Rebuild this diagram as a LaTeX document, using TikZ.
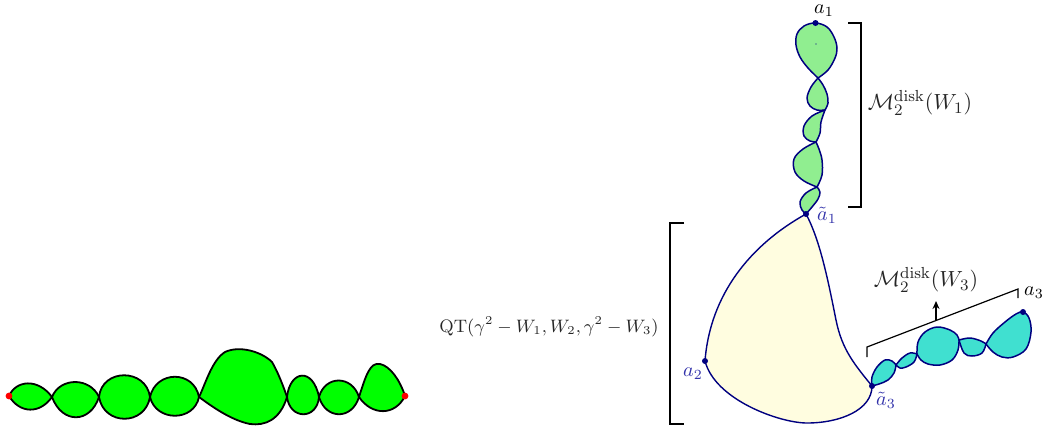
\documentclass[tikz,border=0pt]{standalone}
\usetikzlibrary{arrows.meta}
\definecolor{beadgreen}{RGB}{0,255,0}
\definecolor{lgreen}{RGB}{144,238,144}
\definecolor{turq}{RGB}{64,224,208}
\definecolor{lyellow}{RGB}{255,253,224}
\definecolor{navyc}{RGB}{0,0,128}
\definecolor{lblue}{RGB}{50,50,170}
\tikzset{
  greenbead/.style={fill=beadgreen,draw=black,line width=0.9pt,line join=round},
  topbead/.style={fill=lgreen,draw=navyc,line width=0.75pt,line join=round},
  rightbead/.style={fill=turq,draw=navyc,line width=0.75pt,line join=round},
  region/.style={fill=lyellow,draw=navyc,line width=0.7pt},
  bracketline/.style={draw=black,line width=0.6pt},
  reddot/.style={circle,fill=red,inner sep=0pt,minimum size=3.4pt},
  navydot/.style={circle,fill=navyc,inner sep=0pt,minimum size=3pt},
  blabel/.style={text=lblue,inner sep=1pt,font=\fontsize{10}{12}\selectfont},
  klabel/.style={text=black,inner sep=0.5pt,font=\fontsize{10}{12}\selectfont},
  mlabel/.style={text=black!85,inner sep=1pt,font=\fontsize{11}{13}\selectfont},
  qlabel/.style={text=black!85,inner sep=1pt,font=\fontsize{8.7}{10}\selectfont},
  sm/.style={smooth,tension=0.6}
}
\begin{document}
\begin{tikzpicture}[x=0.5pt,y=-0.5pt]
\useasboundingbox (0,0) rectangle (1048,430);
% ---------------- left chain ----------------
\path[greenbead] (9,396) .. controls (16,380) and (38,378) .. (52,397)
   .. controls (40,414) and (20,414) .. cycle;
\path[greenbead] (52,397) .. controls (60,377) and (90,377) .. (99,397)
   .. controls (90,424) and (62,424) .. cycle;
\path[greenbead] (99,397) .. controls (102,368) and (146,368) .. (150,397)
   .. controls (145,426) and (104,426) .. cycle;
\path[greenbead] (150,397) .. controls (156,370) and (194,370) .. (199,397)
   .. controls (194,422) and (156,422) .. cycle;
\path[greenbead] (199,397) .. controls (205,385) and (212,360) .. (225,352)
   .. controls (240,345) and (262,352) .. (272,362)
   .. controls (278,372) and (284,388) .. (287,397)
   .. controls (280,420) and (265,426) .. (250,424)
   .. controls (230,420) and (210,405) .. cycle;
\path[greenbead] (287,397) .. controls (290,370) and (313,367) .. (319,397)
   .. controls (317,420) and (290,420) .. cycle;
\path[greenbead] (319,397) .. controls (325,375) and (352,375) .. (359,397)
   .. controls (352,420) and (326,420) .. cycle;
\path[greenbead] (359,397) .. controls (366,375) and (370,362) .. (380,364)
   .. controls (390,366) and (400,380) .. (405,396)
   .. controls (395,416) and (372,416) .. cycle;
\node[reddot] (l0) at (9,396) {};
\node[reddot] (l1) at (405,396) {};
% ---------------- yellow region ----------------
\coordinate (ta1) at (806,214);
\coordinate (pa2) at (705,361);
\coordinate (ta3) at (872,386);
\path[region] (ta1) .. controls (750,245) and (710,295) .. (pa2)
   .. controls (715,400) and (780,423) .. (807,423)
   .. controls (840,423) and (872,410) .. (ta3)
   .. controls (855,365) and (842,350) .. (836,320)
   .. controls (828,280) and (820,240) .. cycle;
% ---------------- top chain ----------------
\path[topbead] plot[sm] coordinates {(818,78) (808,68) (800,57) (796,45) (797,34) (804,26) (815.5,23) (827,27) (834,37) (837,48) (835,58) (828,70) (818,78)} -- cycle;
\path[topbead] plot[sm] coordinates {(818,78) (811,87) (807,98) (810,106) (817,110) (825,110)}
   -- plot[sm] coordinates {(825,110) (828,103) (827,94) (823,85) (818,78)} -- cycle;
\path[topbead] plot[sm] coordinates {(825,110) (812,116) (804,126) (804,136) (810,141) (816,142)}
   -- plot[sm] coordinates {(816,142) (820,133) (821,122) (825,110)} -- cycle;
\path[topbead] plot[sm] coordinates {(816,142) (803,149) (794,159) (795,172) (804,181) (817,187)}
   -- plot[sm] coordinates {(817,187) (822,175) (822,160) (819,149) (816,142)} -- cycle;
\path[topbead] plot[sm] coordinates {(817,187) (806,193) (800,202) (802,210) (806,214)}
   -- plot[sm] coordinates {(806,214) (812,207) (818,199) (820,192) (817,187)} -- cycle;
\fill[navyc] (816,44) circle (0.35pt);
% ---------------- right chain ----------------
\path[rightbead] plot[sm] coordinates {(872,386) (872,377) (877,367) (885,360) (892,361) (896,365)}
   -- plot[sm] coordinates {(896,365) (894,373) (888,380) (879,384) (872,386)} -- cycle;
\path[rightbead] plot[sm] coordinates {(896,365) (902,358) (910,353) (917,354)}
   -- plot[sm] coordinates {(917,354) (914,362) (906,367) (900,368) (896,365)} -- cycle;
\path[rightbead] plot[sm] coordinates {(917,354) (918,342) (925,332) (937,327) (950,330) (957,335) (959,340)}
   -- plot[sm] coordinates {(959,340) (958,350) (952,360) (940,365) (928,364) (921,360) (917,354)} -- cycle;
\path[rightbead] plot[sm] coordinates {(959,340) (970,338) (981,341) (986,344)}
   -- plot[sm] coordinates {(986,344) (982,353) (972,356) (964,353) (959,340)} -- cycle;
\path[rightbead] plot[sm] coordinates {(986,344) (993,333) (1005,322) (1016,314) (1023,312) (1029,318) (1031,332) (1026,349) (1013,357) (1002,357) (993,352) (986,344)} -- cycle;
% ---------------- points ----------------
\node[navydot] (a1) at (815.5,23) {};
\node[navydot] (at1) at (ta1) {};
\node[navydot] (a2) at (pa2) {};
\node[navydot] (at3) at (ta3) {};
\node[navydot] (a3) at (1023,312) {};
% ---------------- brackets ----------------
\coordinate (b1a) at (848,23);
\coordinate (b1b) at (861,23);
\coordinate (b1c) at (861,207);
\coordinate (b1d) at (848,207);
\draw[bracketline] (b1a) -- (b1b) -- (b1c) -- (b1d);
\coordinate (b2a) at (684,223);
\coordinate (b2b) at (670,223);
\coordinate (b2c) at (670,424);
\coordinate (b2d) at (684,424);
\draw[bracketline] (b2a) -- (b2b) -- (b2c) -- (b2d);
\coordinate (b3a) at (867,357);
\coordinate (b3b) at (867,347);
\coordinate (b3c) at (1018,289);
\coordinate (b3d) at (1018,298);
\draw[bracketline] (b3a) -- (b3b) -- (b3c) -- (b3d);
\coordinate (arrs) at (936,320.5);
\coordinate (arre) at (936,301);
\draw[bracketline,-{Stealth[length=4pt,width=3.5pt]}] (arrs) -- (arre);
% ---------------- labels ----------------
\node[klabel,anchor=base] (la1) at (824,13) {$a_1$};
\node[mlabel] (lm1) at (920,103) {$\mathcal{M}_2^{\mathrm{disk}}(W_1)$};
\node[blabel] (lta1) at (827,215) {$\tilde a_1$};
\node[qlabel] (lqt) at (549,327) {$\mathrm{QT}(\gamma^2-W_1,W_2,\gamma^2-W_3)$};
\node[blabel] (la2) at (693,374) {$a_2$};
\node[blabel] (lta3) at (886,400) {$\tilde a_3$};
\node[mlabel] (lm3) at (926,280) {$\mathcal{M}_2^{\mathrm{disk}}(W_3)$};
\node[klabel] (la3) at (1034,293) {$a_3$};
\end{tikzpicture}
\end{document}
